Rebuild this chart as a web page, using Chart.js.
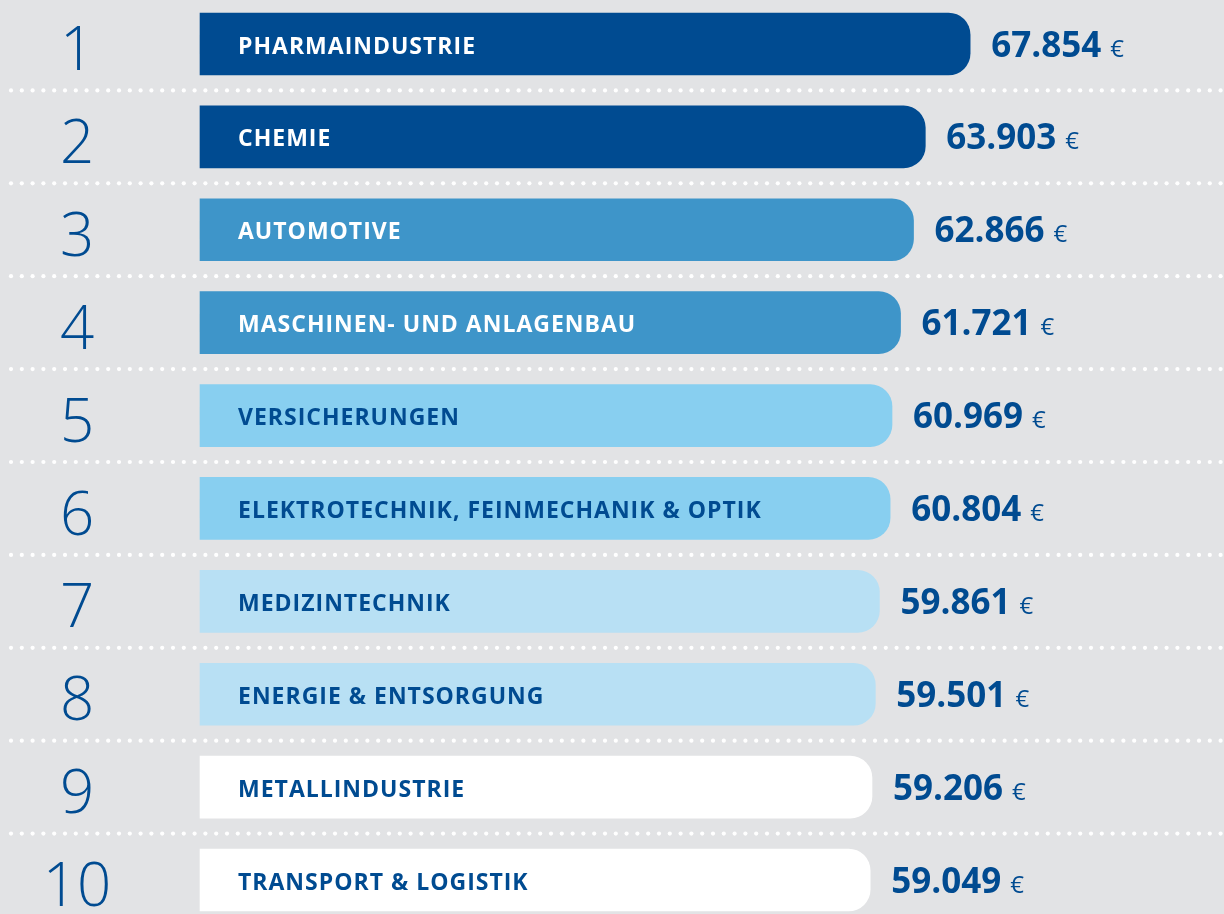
<!DOCTYPE html>
<html lang="de">
<head>
<meta charset="UTF-8">
<title>Branchen Ranking</title>
<script src="https://cdn.jsdelivr.net/npm/chart.js"></script>
<style>
  html, body { margin: 0; padding: 0; background: #e2e3e5; }
  #wrap { width: 1224px; height: 914px; position: relative; }
</style>
</head>
<body>
<div id="wrap"><canvas id="rankChart"></canvas></div>
<script>
// data
const ranks = ['1', '2', '3', '4', '5', '6', '7', '8', '9', '10'];
const branches = [
  'PHARMAINDUSTRIE',
  'CHEMIE',
  'AUTOMOTIVE',
  'MASCHINEN- UND ANLAGENBAU',
  'VERSICHERUNGEN',
  'ELEKTROTECHNIK, FEINMECHANIK & OPTIK',
  'MEDIZINTECHNIK',
  'ENERGIE & ENTSORGUNG',
  'METALLINDUSTRIE',
  'TRANSPORT & LOGISTIK'
];
const salaries = [67854, 63903, 62866, 61721, 60969, 60804, 59861, 59501, 59206, 59049];
const valueLabels = ['67.854', '63.903', '62.866', '61.721', '60.969', '60.804', '59.861', '59.501', '59.206', '59.049'];

const barColors = ['#004b91', '#004b91', '#3e95c9', '#3e95c9', '#88cff0', '#88cff0', '#b8e0f4', '#b8e0f4', '#ffffff', '#ffffff'];
const textColors = ['#ffffff', '#ffffff', '#ffffff', '#ffffff', '#004b91', '#004b91', '#004b91', '#004b91', '#004b91', '#004b91'];
const DARK = '#004b91';

// dotted separators, rank numbers, labels inside and after the bars
const decorations = {
  id: 'decorations',
  beforeDatasetsDraw(chart) {
    const ctx = chart.ctx;
    const bars = chart.getDatasetMeta(0).data;
    ctx.save();
    ctx.fillStyle = '#ffffff';
    for (let i = 0; i < bars.length - 1; i++) {
      const y = (bars[i].y + bars[i + 1].y) / 2;
      for (let x = 11; x < chart.width; x += 10.8) {
        ctx.beginPath();
        ctx.arc(x, y, 2.1, 0, Math.PI * 2);
        ctx.fill();
      }
    }
    ctx.restore();
  },
  afterDatasetsDraw(chart) {
    const ctx = chart.ctx;
    const bars = chart.getDatasetMeta(0).data;
    ctx.save();
    bars.forEach((bar, i) => {
      // rank number
      ctx.letterSpacing = '0px';
      ctx.fillStyle = DARK;
      ctx.textAlign = 'center';
      ctx.textBaseline = 'middle';
      ctx.font = '300 60px "Open Sans", Lato, sans-serif';
      ctx.fillText(ranks[i], 77, bar.y + 9);

      // branch name inside the bar
      ctx.textAlign = 'left';
      ctx.fillStyle = textColors[i];
      ctx.font = 'bold 23px "Open Sans", sans-serif';
      ctx.letterSpacing = '1px';
      ctx.fillText(branches[i], 238, bar.y + 3);
      ctx.letterSpacing = '0px';

      // value after the bar
      ctx.fillStyle = DARK;
      ctx.textBaseline = 'alphabetic';
      ctx.font = 'bold 35px "Open Sans", sans-serif';
      const vx = bar.x + 21;
      ctx.fillText(valueLabels[i], vx, bar.y + 12.5);
      const w = ctx.measureText(valueLabels[i]).width;
      ctx.font = '24px "Open Sans", sans-serif';
      ctx.fillText('€', vx + w + 9, bar.y + 12.5);
    });
    ctx.restore();
  }
};

new Chart(document.getElementById('rankChart'), {
  type: 'bar',
  data: {
    labels: branches,
    datasets: [{
      data: salaries,
      backgroundColor: barColors,
      borderWidth: 0,
      borderRadius: 22,
      borderSkipped: 'start',
      barThickness: 62,
      clip: false
    }]
  },
  options: {
    indexAxis: 'y',
    responsive: true,
    maintainAspectRatio: false,
    animation: false,
    layout: { padding: { left: 200, right: 116, top: 44, bottom: 34 } },
    scales: {
      x: { display: false, min: 0, max: 80000 },
      y: { display: false, offset: false }
    },
    plugins: {
      legend: { display: false },
      tooltip: { enabled: false }
    }
  },
  plugins: [decorations]
});
</script>
</body>
</html>
